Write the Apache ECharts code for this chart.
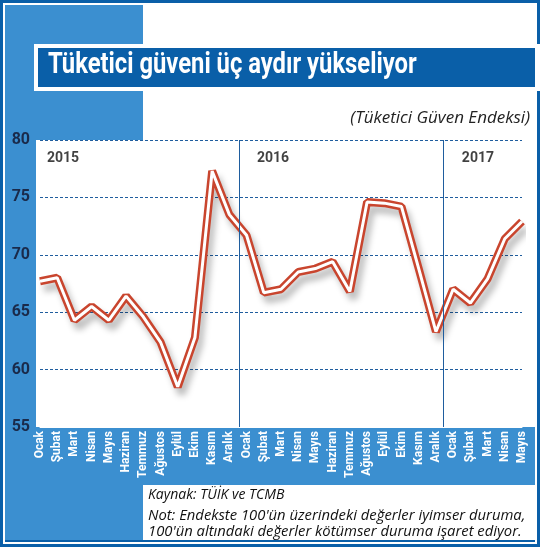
<!DOCTYPE html>
<html><head><meta charset="utf-8">
<script src="https://cdn.jsdelivr.net/npm/echarts@6/dist/echarts.min.js"></script>
<style>html,body{margin:0;padding:0;background:#fff}#c{width:540px;height:547px}</style>
</head><body><div id="c"></div>
<script>
const months = ['Ocak','Şubat','Mart','Nisan','Mayıs','Haziran','Temmuz','Ağustos','Eylül','Ekim','Kasım','Aralık',
 'Ocak','Şubat','Mart','Nisan','Mayıs','Haziran','Temmuz','Ağustos','Eylül','Ekim','Kasım','Aralık',
 'Ocak','Şubat','Mart','Nisan','Mayıs'];
const values = [67.7,68.0,64.3,65.5,64.3,66.4,64.6,62.4,58.5,62.8,77.3,73.5,
 71.7,66.7,67.0,68.5,68.8,69.4,66.8,74.6,74.5,74.2,68.8,63.3,
 67.0,65.8,67.9,71.4,72.9];
const years = ['2015','2016','2017'];
const yearSeparators = [11.6, 23.4];
const yearLabelPos = [0, 12.2, 24.1];
const yTicks = {min:55, max:80, interval:5};

const COND = 'Roboto';
const chart = echarts.init(document.getElementById('c'));
const blue = '#3b8fd0', dark = '#0a5fa8';
chart.setOption({
  animation:false,
  backgroundColor:'#fff',
  graphic:[
    {type:'rect',z:-10,shape:{x:0,y:0,width:540,height:547},style:{fill:'none',stroke:dark,lineWidth:6}},
    {type:'rect',z:-9,shape:{x:5,y:5,width:138,height:135},style:{fill:blue}},
    {type:'rect',z:-9,shape:{x:5,y:5,width:31,height:537},style:{fill:blue}},
    {type:'rect',z:-9,shape:{x:5,y:427,width:530,height:58},style:{fill:blue}},
    {type:'rect',z:-9,shape:{x:5,y:427,width:138,height:115},style:{fill:blue}},
    {type:'rect',z:-8,shape:{x:34,y:44,width:506,height:47},style:{fill:'#fff'}},
    {type:'rect',z:-7,shape:{x:38,y:48,width:497,height:39},style:{fill:dark}},
    {type:'text',x:48,y:51,scaleX:0.82,style:{text:'Tüketici güveni üç aydır yükseliyor',fill:'#fff',font:'bold 29px Roboto'}},
    {type:'text',right:10,top:110,style:{text:'(Tüketici Güven Endeksi)',fill:'#222',font:'italic 17px "Open Sans"'}},
    {type:'text',left:148,top:488,style:{text:'Kaynak: TÜİK ve TCMB',fill:'#111',font:'italic 14px "Open Sans"'}},
    {type:'text',left:148,top:508,style:{text:"Not: Endekste 100'ün üzerindeki değerler iyimser duruma,\n100'ün altındaki değerler kötümser duruma işaret ediyor.",fill:'#111',font:'italic 14.8px "Open Sans"',lineHeight:16}},
    {type:'rect',z:-9,shape:{x:5,y:540,width:530,height:2},style:{fill:dark}}
  ],
  grid:{left:40,right:18,top:140,bottom:120,containLabel:false},
  xAxis:[{
    type:'category',data:months,boundaryGap:false,
    axisLine:{show:true,lineStyle:{color:'#fff',width:1}},
    axisTick:{show:true,inside:true,length:4,lineStyle:{color:'#fff'}},
    axisLabel:{rotate:90,interval:0,color:'#fff',fontFamily:COND,fontWeight:'bold',fontSize:12,margin:4},
    splitLine:{show:false}
  },{
    type:'value',min:0,max:28,show:false
  }],
  yAxis:{
    type:'value',min:yTicks.min,max:yTicks.max,interval:yTicks.interval,
    axisLine:{show:false},axisTick:{show:false},
    axisLabel:{color:'#1a2a4a',fontFamily:COND,fontWeight:'bold',fontSize:16,margin:10},
    splitLine:{lineStyle:{color:'#1f5d9e',type:[3,2],width:1.2}}
  },
  series:[
    {type:'line',data:values,symbol:'none',z:3,
     lineStyle:{color:'#c9452e',width:8,shadowColor:'rgba(0,0,0,0.25)',shadowBlur:6,shadowOffsetX:4,shadowOffsetY:7}},
    {type:'line',data:values,symbol:'none',z:4,lineStyle:{color:'#fff',width:3}},
    {type:'line',xAxisIndex:1,data:[],z:2,
     markLine:{silent:true,symbol:'none',label:{show:false},lineStyle:{color:'#1f5d9e',type:'solid',width:1},
       data:yearSeparators.map(v=>({xAxis:v}))}},
    {type:'scatter',xAxisIndex:1,symbolSize:0,z:5,
     data:yearLabelPos.map((p,i)=>({value:[p,80],name:years[i]})),
     label:{show:true,position:'insideTopLeft',formatter:p=>p.name,color:'#111',fontFamily:COND,fontWeight:'bold',fontSize:14,offset:[2,6]}}
  ]
});
</script></body></html>
